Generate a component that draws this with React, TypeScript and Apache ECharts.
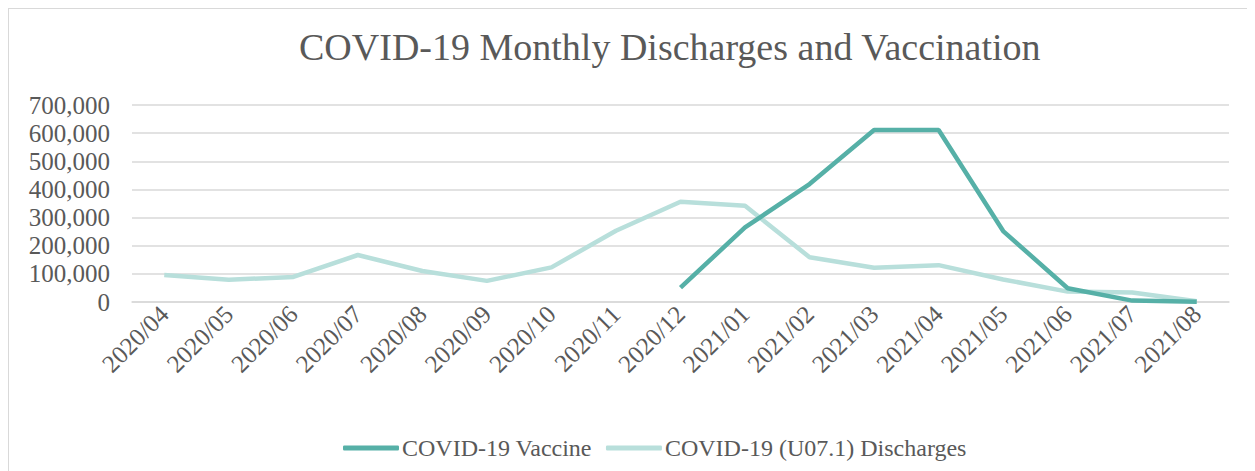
import React, { useEffect, useRef } from "react";
import * as echarts from "echarts";

const months = [
  "2020/04", "2020/05", "2020/06", "2020/07", "2020/08", "2020/09", "2020/10", "2020/11", "2020/12",
  "2021/01", "2021/02", "2021/03", "2021/04", "2021/05", "2021/06", "2021/07", "2021/08",
];
const vaccine = [null, null, null, null, null, null, null, null, 51000, 265000, 419000, 611000, 611000, 252000, 49000, 5000, 500];
const discharges = [96000, 79000, 89000, 167000, 110000, 75000, 123000, 253000, 356000, 342000, 159000, 122000, 131000, 80000, 37000, 34000, 3000];
const yTicks = [0, 100000, 200000, 300000, 400000, 500000, 600000, 700000];

const TEXT = "#595959";
const FONT = "'Liberation Serif', 'Times New Roman', serif";

export default function App() {
  const ref = useRef<HTMLDivElement>(null);
  useEffect(() => {
    if (!ref.current) return;
    const chart = echarts.init(ref.current, undefined, { renderer: "svg" });
    chart.setOption({
      animation: false,
      backgroundColor: "#ffffff",
      title: {
        text: "COVID-19 Monthly Discharges and Vaccination",
        left: 285,
        top: 14,
        padding: 5,
        textStyle: { color: TEXT, fontFamily: FONT, fontSize: 38, fontWeight: "normal" },
      },
      legend: {
        left: 334,
        top: 427,
        padding: 0,
        itemWidth: 56,
        itemHeight: 5,
        itemGap: 14,
        icon: "roundRect",
        textStyle: { color: TEXT, fontFamily: FONT, fontSize: 24, padding: [0, 0, 0, -2] },
        data: ["COVID-19 Vaccine", "COVID-19 (U07.1) Discharges"],
      },
      grid: { left: 123, top: 96, width: 1097, height: 197, containLabel: false },
      xAxis: {
        type: "category",
        data: months,
        boundaryGap: true,
        axisLine: { show: true, lineStyle: { color: "#d9d9d9", width: 1.5 } },
        axisTick: { show: false },
        axisLabel: {
          rotate: 45,
          margin: 8,
          interval: 0,
          color: TEXT,
          fontFamily: FONT,
          fontSize: 25,
        },
      },
      yAxis: {
        type: "value",
        min: yTicks[0],
        max: yTicks[yTicks.length - 1],
        interval: 100000,
        axisLine: { show: false },
        axisTick: { show: false },
        splitLine: { lineStyle: { color: "#d9d9d9", width: 1.5 } },
        axisLabel: {
          margin: 22,
          color: TEXT,
          fontFamily: FONT,
          fontSize: 25,
          formatter: (v: number) => v.toLocaleString("en-US"),
        },
      },
      series: [
        {
          name: "COVID-19 Vaccine",
          type: "line",
          data: vaccine,
          symbol: "none",
          z: 3,
          color: "#56B0A7",
          lineStyle: { color: "#56B0A7", width: 4.5 },
        },
        {
          name: "COVID-19 (U07.1) Discharges",
          type: "line",
          data: discharges,
          symbol: "none",
          z: 2,
          color: "#B8DFDB",
          lineStyle: { color: "#B8DFDB", width: 4.5 },
        },
      ],
    });
    return () => chart.dispose();
  }, []);
  return (
    <div
      ref={ref}
      style={{
        width: 1246,
        height: 462,
        borderTop: "1px solid #d9d9d9",
        borderLeft: "1px solid #d9d9d9",
      }}
    />
  );
}
